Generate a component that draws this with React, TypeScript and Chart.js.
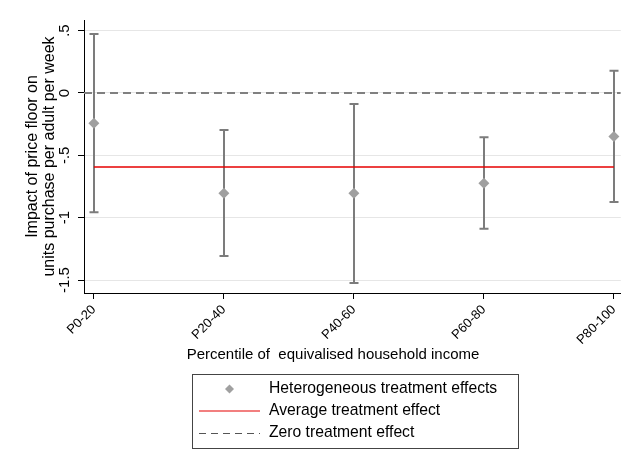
import React, { useEffect, useRef } from 'react';
import { Chart, registerables } from 'chart.js';

Chart.register(...registerables);

const categories = ['P0-20', 'P20-40', 'P40-60', 'P60-80', 'P80-100'];
const pointEstimates = [-0.243, -0.805, -0.805, -0.724, -0.35];
const ciLower = [-0.957, -1.307, -1.524, -1.088, -0.874];
const ciUpper = [0.473, -0.297, -0.088, -0.355, 0.179];
const averageEffect = -0.593;
const zeroEffect = 0;
const yTickValues = [-1.5, -1, -0.5, 0, 0.5];
const yTickLabels = ['-1.5', '-1', '-.5', '0', '.5'];
const Y_MIN = -1.604;
const Y_MAX = 0.585;
const X_MIN = -0.076;
const X_MAX = 4.053;
const seriesLabels = ['Heterogeneous treatment effects', 'Average treatment effect', 'Zero treatment effect'];
const xTitle = 'Percentile of  equivalised household income';
const yTitle = ['Impact of price floor on', 'units purchase per adult per week'];

const FONT = "'Liberation Sans', Arial, sans-serif";

const errorBarPlugin = {
  id: 'errorBars',
  beforeDatasetsDraw(chart: any) {
    const { ctx, scales } = chart;
    const x = scales.x;
    const y = scales.y;
    ctx.save();
    ctx.strokeStyle = '#7c7c7c';
    ctx.lineWidth = 2;
    categories.forEach((_, i) => {
      const px = Math.round(x.getPixelForValue(i));
      const yl = y.getPixelForValue(ciLower[i]);
      const yu = y.getPixelForValue(ciUpper[i]);
      ctx.beginPath();
      ctx.moveTo(px, yl);
      ctx.lineTo(px, yu);
      ctx.moveTo(px - 4.5, yl);
      ctx.lineTo(px + 4.5, yl);
      ctx.moveTo(px - 4.5, yu);
      ctx.lineTo(px + 4.5, yu);
      ctx.stroke();
    });
    ctx.restore();
  },
};

const xTitlePlugin = {
  id: 'xTitleText',
  afterDraw(chart: any) {
    const { ctx } = chart;
    ctx.save();
    ctx.fillStyle = '#000000';
    ctx.font = `15px ${FONT}`;
    ctx.textAlign = 'center';
    ctx.textBaseline = 'middle';
    ctx.fillText(xTitle, 333, 355);
    ctx.restore();
  },
};

const boxLegendPlugin = {
  id: 'boxLegend',
  afterDraw(chart: any) {
    const { ctx } = chart;
    const ds = chart.data.datasets;
    const left = 192.5, top = 374.5, w = 326, h = 74;
    ctx.save();
    ctx.strokeStyle = '#444444';
    ctx.lineWidth = 1;
    ctx.strokeRect(left, top, w, h);
    const rows = [389, 411, 433];
    const symL = 199, symR = 260, textX = 269;
    ctx.fillStyle = ds[0].backgroundColor;
    const cx = (symL + symR) / 2, cy = rows[0];
    const r = 4.5;
    ctx.beginPath();
    ctx.moveTo(cx, cy - r);
    ctx.lineTo(cx + r, cy);
    ctx.lineTo(cx, cy + r);
    ctx.lineTo(cx - r, cy);
    ctx.closePath();
    ctx.fill();
    ctx.strokeStyle = ds[1].borderColor;
    ctx.lineWidth = 1.2;
    ctx.beginPath();
    ctx.moveTo(symL, rows[1]);
    ctx.lineTo(symR, rows[1]);
    ctx.stroke();
    ctx.strokeStyle = '#555555';
    ctx.lineWidth = 1;
    ctx.setLineDash([7, 5]);
    ctx.beginPath();
    ctx.moveTo(symL, rows[2] + 0.5);
    ctx.lineTo(symR, rows[2] + 0.5);
    ctx.stroke();
    ctx.setLineDash([]);
    ctx.fillStyle = '#000000';
    ctx.font = `15.7px ${FONT}`;
    ctx.textBaseline = 'middle';
    ctx.textAlign = 'left';
    ds.forEach((d: any, i: number) => {
      ctx.fillText(d.label, textX, rows[i]);
    });
    ctx.restore();
  },
};

export default function App() {
  const ref = useRef<HTMLCanvasElement>(null);

  useEffect(() => {
    document.body.style.margin = '0';
    const canvas = ref.current;
    if (!canvas) return;
    const chart = new Chart(canvas, {
      type: 'scatter',
      data: {
        datasets: [
          {
            type: 'scatter',
            label: seriesLabels[0],
            data: categories.map((_, i) => ({ x: i, y: pointEstimates[i] })),
            pointStyle: 'rectRot',
            pointRadius: 5.5,
            backgroundColor: '#a0a0a0',
            borderWidth: 0,
            order: 0,
          } as any,
          {
            type: 'line',
            label: seriesLabels[1],
            data: [
              { x: 0, y: averageEffect },
              { x: categories.length - 1, y: averageEffect },
            ],
            borderColor: '#e60000',
            borderWidth: 1.5,
            pointRadius: 0,
            fill: false,
            order: 1,
          } as any,
          {
            type: 'line',
            label: seriesLabels[2],
            data: [
              { x: X_MIN, y: zeroEffect },
              { x: X_MAX, y: zeroEffect },
            ],
            borderColor: '#808080',
            borderWidth: 2,
            borderDash: [8, 5],
            pointRadius: 0,
            fill: false,
            order: 2,
          } as any,
        ],
      },
      options: {
        animation: false,
        responsive: false,
        devicePixelRatio: 1,
        layout: { padding: { top: 20, left: 0, right: 0, bottom: 0 } },
        plugins: {
          legend: { display: false },
          tooltip: { enabled: false },
        },
        scales: {
          x: {
            type: 'linear',
            min: X_MIN,
            max: X_MAX,
            afterBuildTicks: (scale: any) => {
              scale.ticks = categories.map((_, i) => ({ value: i }));
            },
            afterFit: (scale: any) => {
              scale.height = 171;
            },
            ticks: {
              callback: (v: any) => categories[Math.round(Number(v))] ?? '',
              minRotation: 45,
              maxRotation: 45,
              autoSkip: false,
              padding: 3,
              color: '#000000',
              font: { family: FONT, size: 13 },
            },
            grid: {
              drawOnChartArea: false,
              tickLength: 6,
              tickColor: '#000000',
              tickWidth: 1,
            },
            border: { color: '#000000', width: 1 },
            title: { display: false },
          },
          y: {
            type: 'linear',
            min: Y_MIN,
            max: Y_MAX,
            afterBuildTicks: (scale: any) => {
              scale.ticks = yTickValues.map((v) => ({ value: v }));
            },
            afterFit: (scale: any) => {
              scale.width = 84;
            },
            ticks: {
              callback: (v: any) => {
                const idx = yTickValues.findIndex((t) => Math.abs(t - Number(v)) < 1e-9);
                return idx >= 0 ? yTickLabels[idx] : '';
              },
              minRotation: 90,
              maxRotation: 90,
              crossAlign: 'center',
              padding: 0,
              color: '#000000',
              font: { family: FONT, size: 15 },
            },
            grid: {
              color: '#e6e6e6',
              lineWidth: 1,
              tickLength: 6,
              tickColor: '#000000',
              tickWidth: 1,
            },
            border: { color: '#000000', width: 1 },
            title: {
              display: true,
              text: yTitle,
              color: '#000000',
              font: { family: FONT, size: 16, lineHeight: 1.05 },
              padding: { top: 24.5, bottom: 0 },
            },
          },
        },
      },
      plugins: [errorBarPlugin, xTitlePlugin, boxLegendPlugin],
    } as any);
    return () => chart.destroy();
  }, []);

  return (
    <div style={{ width: 628, height: 464 }}>
      <canvas ref={ref} width={628} height={464} style={{ display: 'block', width: 628, height: 464 }} />
    </div>
  );
}
